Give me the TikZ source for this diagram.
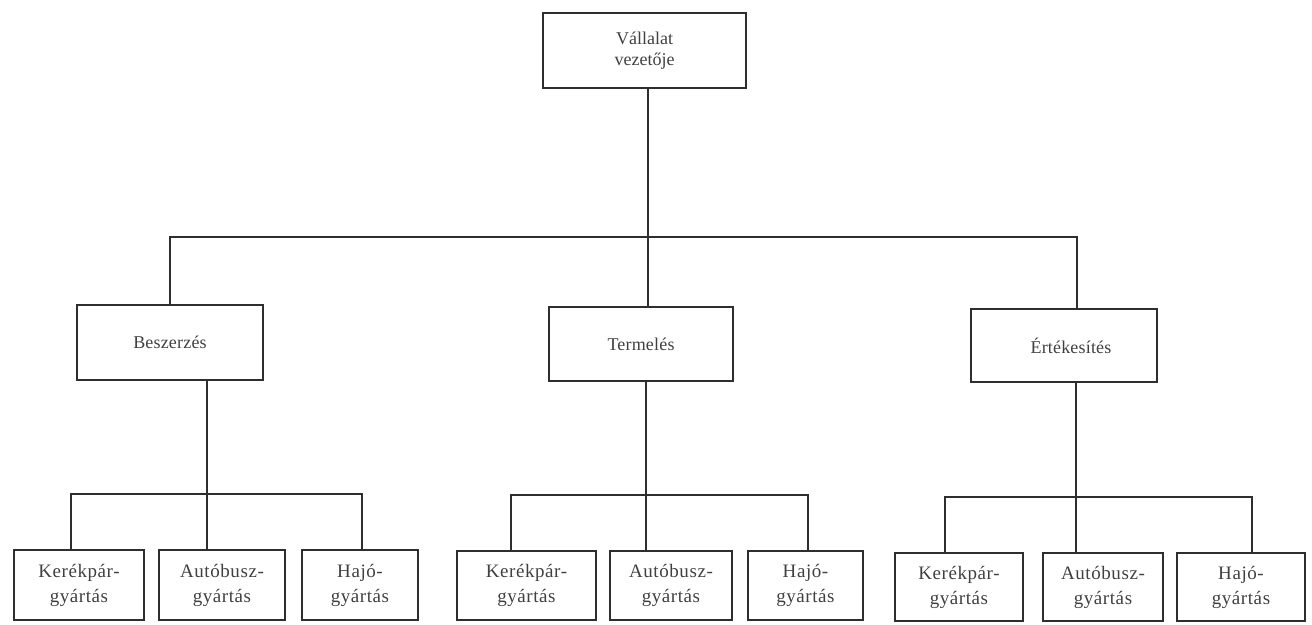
\documentclass[tikz,border=0pt]{standalone}
\usepackage{fontspec}
\setmainfont{Liberation Serif}
\definecolor{ink}{gray}{0.18}
\definecolor{inktext}{gray}{0.25}
\begin{document}
\begin{tikzpicture}[x=1pt,y=-1pt,
  orgbox/.style={draw=ink, line width=1.4pt, align=center, inner sep=0pt,
    text=inktext, font=\fontsize{19}{25}\selectfont\addfontfeatures{LetterSpace=3}},
  deptbox/.style={orgbox, font=\fontsize{18}{22}\selectfont\addfontfeatures{LetterSpace=1}},
  link/.style={draw=ink, line width=1.3pt}]
\useasboundingbox (0,0) rectangle (1312,624);

% top level
\node[orgbox, minimum width=203, minimum height=75,
  font=\fontsize{18}{21}\selectfont] (head) at (644.5,50.5) {Vállalat\\vezetője};

% departments
\node[deptbox, minimum width=186, minimum height=75] (besz)  at (170,342.5)  {Beszerzés};
\node[deptbox, minimum width=184, minimum height=74] (term)  at (641,344)    {Termelés};
\node[deptbox, minimum width=186, minimum height=73] (ertek) at (1064,345.5) {\hspace*{14pt}Értékesítés};

% production units
\node[orgbox, minimum width=130, minimum height=70] (k1) at (79,585)     {Kerékpár-\\gyártás};
\node[orgbox, minimum width=126, minimum height=70] (a1) at (222,585)    {Autóbusz-\\gyártás};
\node[orgbox, minimum width=116, minimum height=70] (h1) at (360,585)    {Hajó-\\gyártás};
\node[orgbox, minimum width=139, minimum height=69] (k2) at (526.5,585.5) {Kerékpár-\\gyártás};
\node[orgbox, minimum width=122, minimum height=69] (a2) at (671,585.5)   {Autóbusz-\\gyártás};
\node[orgbox, minimum width=115, minimum height=69] (h2) at (805.5,585.5) {Hajó-\\gyártás};
\node[orgbox, minimum width=128, minimum height=68] (k3) at (959,587)     {Kerékpár-\\gyártás};
\node[orgbox, minimum width=120, minimum height=68] (a3) at (1103,587)    {Autóbusz-\\gyártás};
\node[orgbox, minimum width=128, minimum height=68] (h3) at (1241,587)    {Hajó-\\gyártás};

% bus junctions
\coordinate (busL) at (170,237);
\coordinate (busC) at (648,237);
\coordinate (busR) at (1077,237);
\coordinate (g1L) at (71,494);  \coordinate (g1C) at (207,494);  \coordinate (g1R) at (362,494);
\coordinate (g2L) at (511,495); \coordinate (g2C) at (646,495);  \coordinate (g2R) at (808,495);
\coordinate (g3L) at (945,497); \coordinate (g3C) at (1076,497); \coordinate (g3R) at (1252,497);

% top bus
\draw[link] (busC |- head.south) -- (busC);
\draw[link] (busL |- besz.north) -- (busL) -- (busR) -- (busR |- ertek.north);
\draw[link] (busC) -- (busC |- term.north);

% group buses
\draw[link] (g1C |- besz.south) -- (g1C);
\draw[link] (g1L |- k1.north) -- (g1L) -- (g1R) -- (g1R |- h1.north);
\draw[link] (g1C) -- (g1C |- a1.north);

\draw[link] (g2C |- term.south) -- (g2C);
\draw[link] (g2L |- k2.north) -- (g2L) -- (g2R) -- (g2R |- h2.north);
\draw[link] (g2C) -- (g2C |- a2.north);

\draw[link] (g3C |- ertek.south) -- (g3C);
\draw[link] (g3L |- k3.north) -- (g3L) -- (g3R) -- (g3R |- h3.north);
\draw[link] (g3C) -- (g3C |- a3.north);
\end{tikzpicture}
\end{document}
